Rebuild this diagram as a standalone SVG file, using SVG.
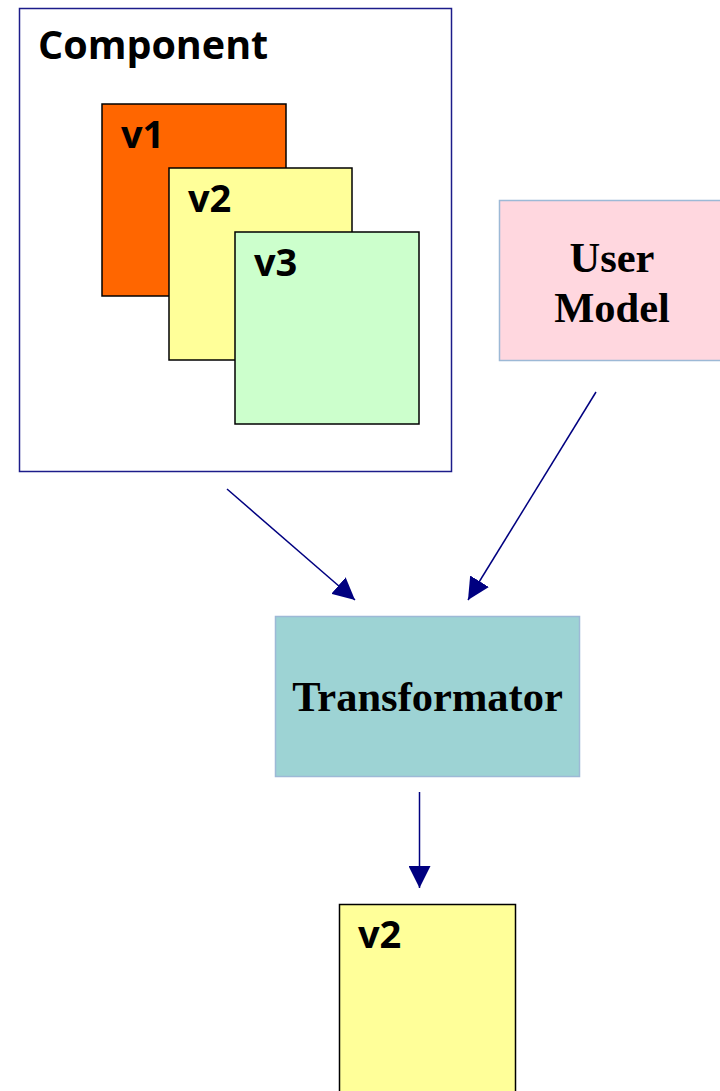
<svg xmlns="http://www.w3.org/2000/svg" width="720" height="1091" viewBox="0 0 720 1091">
  <style>
    .sans { font-family: "Open Sans", "DejaVu Sans", sans-serif; font-weight: bold; fill: #000; font-size: 38px; }
    .serif { font-family: "Liberation Serif", "Times New Roman", serif; font-weight: bold; fill: #000; font-size: 42.5px; text-anchor: middle; }
    .page { stroke: #000; stroke-width: 1.5; }
    .conn { stroke: #000080; stroke-width: 1.5; fill: none; marker-end: url(#arrow); }
  </style>
  <defs>
    <marker id="arrow" markerUnits="userSpaceOnUse" markerWidth="22" markerHeight="22" viewBox="0 0 20 20" refX="20" refY="10" orient="auto">
      <path d="M0,0 L20,10 L0,20 Z" fill="#000080"/>
    </marker>
  </defs>
  <rect width="720" height="1091" fill="#fff"/>

  <g id="component">
    <rect x="19.5" y="8.5" width="432" height="463" fill="#fff" stroke="#1c1c8a" stroke-width="1.5"/>
    <text class="sans" x="38" y="59" style="font-size:39.5px">Component</text>
  </g>

  <g id="v1">
    <rect class="page" x="102" y="104" width="184" height="192" fill="#ff6600"/>
    <text class="sans" x="121" y="148">v1</text>
  </g>

  <g id="v2">
    <rect class="page" x="169" y="168" width="183" height="192" fill="#ffff99"/>
    <text class="sans" x="188" y="212">v2</text>
  </g>

  <g id="v3">
    <rect class="page" x="235" y="232" width="184" height="192" fill="#ccffcc"/>
    <text class="sans" x="254" y="276">v3</text>
  </g>

  <g id="user-model">
    <rect x="499.5" y="200.5" width="240" height="160" fill="#ffd7df" stroke="#9db9d6" stroke-width="1.5"/>
    <text class="serif" x="612" y="272">User</text>
    <text class="serif" x="612" y="322">Model</text>
  </g>

  <g id="transformator">
    <rect x="275.5" y="616.5" width="304" height="160" fill="#9dd3d4" stroke="#9db9d6" stroke-width="1.5"/>
    <text class="serif" x="427.5" y="711">Transformator</text>
  </g>

  <g id="result-v2">
    <rect class="page" x="339.5" y="904.5" width="176" height="200" fill="#ffff99"/>
    <text class="sans" x="358" y="948">v2</text>
  </g>

  <g id="connectors">
    <line class="conn" x1="227" y1="489" x2="355" y2="600"/>
    <line class="conn" x1="596" y1="392" x2="468" y2="600"/>
    <line class="conn" x1="419.5" y1="792" x2="419.5" y2="888"/>
  </g>
</svg>
